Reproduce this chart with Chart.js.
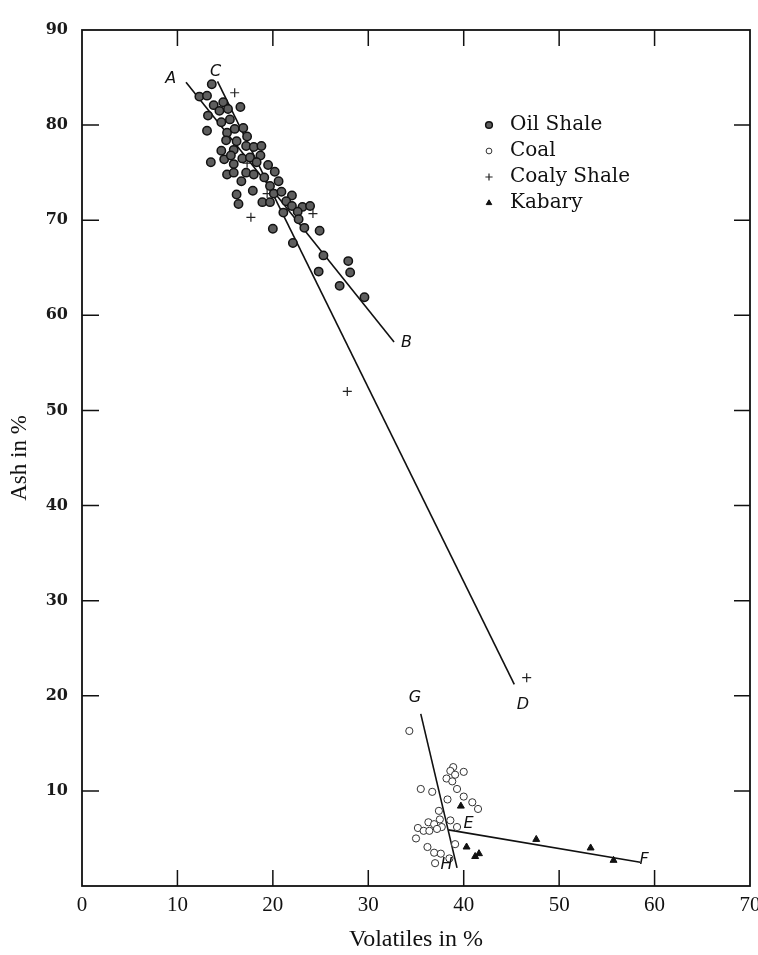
<!DOCTYPE html>
<html>
<head>
<meta charset="utf-8">
<script src="https://cdn.jsdelivr.net/npm/chart.js@4.4.1/dist/chart.umd.min.js"></script>
<style>
  html, body { margin: 0; padding: 0; background: #fff; }
  #wrap { width: 758px; height: 955px; }
</style>
</head>
<body>
<div id="wrap"><canvas id="grafico"></canvas></div>
<script>
// volatiles (x) and ash (y), percent
const oleoX = [13.6, 12.3, 13.1, 13.8, 14.8, 14.4, 15.3, 16.6, 13.2, 14.6, 15.5, 13.1, 15.2, 16.0, 16.9,
  15.1, 16.2, 17.3, 14.6, 15.9, 17.2, 18.0, 18.8, 14.9, 15.6, 16.8, 17.6, 18.7, 13.5, 15.9, 18.3, 19.5,
  15.2, 15.9, 17.2, 18.0, 19.1, 20.2, 16.7, 17.9, 19.7, 20.6, 20.1, 20.9, 22.0, 16.2, 16.4, 18.9, 19.7,
  21.4, 22.0, 23.1, 23.9, 22.6, 21.1, 22.7, 23.3, 24.9, 20.0, 22.1, 25.3, 27.9, 28.1, 24.8, 27.0, 29.6];
const oleoY = [84.3, 83.0, 83.1, 82.1, 82.4, 81.5, 81.7, 81.9, 81.0, 80.3, 80.6, 79.4, 79.2, 79.6, 79.7,
  78.4, 78.3, 78.8, 77.3, 77.4, 77.8, 77.7, 77.8, 76.4, 76.8, 76.5, 76.6, 76.8, 76.1, 75.9, 76.1, 75.8,
  74.8, 75.0, 75.0, 74.8, 74.5, 75.1, 74.1, 73.1, 73.6, 74.1, 72.8, 73.0, 72.6, 72.7, 71.7, 71.9, 71.9,
  72.0, 71.5, 71.4, 71.5, 70.9, 70.8, 70.1, 69.2, 68.9, 69.1, 67.6, 66.3, 65.7, 64.5, 64.6, 63.1, 61.9];

const carvaoX = [34.3, 38.9, 38.6, 39.1, 40.0, 38.2, 38.8, 39.3, 35.5, 36.7, 38.3, 40.0, 40.9, 41.5,
  37.4, 37.5, 36.3, 36.9, 38.6, 37.7, 39.3, 35.2, 35.8, 36.4, 37.2, 35.0, 36.2, 36.9, 37.6, 38.5, 37.0, 39.1];
const carvaoY = [16.3, 12.5, 12.1, 11.7, 12.0, 11.3, 11.0, 10.2, 10.2, 9.9, 9.1, 9.4, 8.8, 8.1,
  7.9, 7.0, 6.7, 6.5, 6.9, 6.2, 6.2, 6.1, 5.8, 5.8, 6.0, 5.0, 4.1, 3.5, 3.4, 2.9, 2.4, 4.4];

const xistoX = [16.0, 17.3, 19.4, 24.2, 17.7, 27.8, 46.6];
const xistoY = [83.4, 76.0, 72.8, 70.7, 70.3, 52.0, 21.9];

const kabaryX = [39.7, 40.3, 41.2, 41.6, 47.6, 53.3, 55.7];
const kabaryY = [8.4, 4.1, 3.1, 3.4, 4.9, 4.0, 2.7];

// trend lines, end points
const retaAB = [[10.9, 84.5], [32.7, 57.2]];
const retaCD = [[14.2, 84.6], [45.3, 21.2]];
const retaGH = [[35.5, 18.1], [39.3, 1.9]];
const retaEF = [[38.4, 5.9], [58.5, 2.5]];

// letters beside the lines
const letras = ['A', 'B', 'C', 'D', 'E', 'F', 'G', 'H'];
const letrasX = [9.3, 34.0, 14.0, 46.2, 40.5, 58.9, 34.9, 38.2];
const letrasY = [84.9, 57.1, 85.6, 19.0, 6.5, 2.8, 19.8, 2.2];

const ticksX = [0, 10, 20, 30, 40, 50, 60, 70];
const ticksY = [0, 10, 20, 30, 40, 50, 60, 70, 80, 90];

function pares(xs, ys) {
    return xs.map((x, i) => ({ x: x, y: ys[i] }));
}

function reta(pontos) {
    return {
        type: 'line',
        data: pontos.map(p => ({ x: p[0], y: p[1] })),
        showLine: true,
        borderColor: '#111',
        borderWidth: 1.6,
        pointRadius: 0,
        fill: false,
        semLegenda: true
    };
}

// frame, inward tick marks, legend and letters
const moldura = {
    id: 'moldura',
    afterDraw(chart) {
        const ctx = chart.ctx;
        const area = chart.chartArea;
        const sx = chart.scales.x;
        const sy = chart.scales.y;
        ctx.save();
        ctx.strokeStyle = '#111';
        ctx.lineWidth = 1.8;
        ctx.strokeRect(area.left, area.top, area.right - area.left, area.bottom - area.top);

        ctx.lineWidth = 1.5;
        ctx.beginPath();
        ticksX.slice(1, -1).forEach(v => {
            const px = sx.getPixelForValue(v);
            ctx.moveTo(px, area.bottom); ctx.lineTo(px, area.bottom - 16);
            ctx.moveTo(px, area.top); ctx.lineTo(px, area.top + 16);
        });
        ticksY.slice(1, -1).forEach(v => {
            const py = sy.getPixelForValue(v);
            ctx.moveTo(area.left, py); ctx.lineTo(area.left + 17, py);
            ctx.moveTo(area.right, py); ctx.lineTo(area.right - 16, py);
        });
        ctx.stroke();

        // letters
        ctx.fillStyle = '#111';
        ctx.font = 'italic 16px "DejaVu Sans"';
        ctx.textAlign = 'center';
        ctx.textBaseline = 'middle';
        letras.forEach((l, i) => {
            ctx.fillText(l, sx.getPixelForValue(letrasX[i]), sy.getPixelForValue(letrasY[i]));
        });

        // legend
        const itens = chart.data.datasets.filter(d => !d.semLegenda);
        let y = 125;
        ctx.textAlign = 'left';
        ctx.font = '20px "DejaVu Serif"';
        itens.forEach(d => {
            ctx.fillStyle = d.backgroundColor;
            ctx.strokeStyle = d.borderColor;
            ctx.lineWidth = d.borderWidth;
            Chart.helpers.drawPoint(ctx, { pointStyle: d.pointStyle, radius: d.pointRadius * 0.8, borderWidth: d.borderWidth }, 489, y);
            ctx.fillStyle = '#111';
            ctx.fillText(d.label, 510, y);
            y += 26;
        });
        ctx.restore();
    }
};

let config = {
    type: 'scatter',
    data: {
        datasets: [{
            label: 'Oil Shale',
            data: pares(oleoX, oleoY),
            pointStyle: 'circle',
            pointRadius: 4.2,
            backgroundColor: '#5e5e5e',
            borderColor: '#111',
            borderWidth: 1.5
        }, {
            label: 'Coal',
            data: pares(carvaoX, carvaoY),
            pointStyle: 'circle',
            pointRadius: 3.6,
            backgroundColor: '#fff',
            borderColor: '#333',
            borderWidth: 1
        }, {
            label: 'Coaly Shale',
            data: pares(xistoX, xistoY),
            pointStyle: 'cross',
            pointRadius: 4.5,
            backgroundColor: '#222',
            borderColor: '#222',
            borderWidth: 1.2
        }, {
            label: 'Kabary',
            data: pares(kabaryX, kabaryY),
            pointStyle: 'triangle',
            pointRadius: 4,
            backgroundColor: '#111',
            borderColor: '#111',
            borderWidth: 1
        },
        reta(retaAB), reta(retaCD), reta(retaGH), reta(retaEF)]
    },
    options: {
        responsive: true,
        maintainAspectRatio: false,
        animation: false,
        layout: { padding: { top: 30, right: 8, left: 0, bottom: 0 } },
        plugins: {
            legend: { display: false },
            tooltip: { enabled: false }
        },
        scales: {
            x: {
                type: 'linear',
                min: 0,
                max: 70,
                afterBuildTicks: s => { s.ticks = ticksX.map(v => ({ value: v })); },
                grid: { display: false, drawTicks: false },
                border: { display: false },
                ticks: { padding: 7, color: '#111', font: { size: 21, family: 'Liberation Serif' } },
                title: { display: true, text: 'Volatiles in %', color: '#111', padding: { top: 14, bottom: 1 }, font: { size: 24, family: 'Liberation Serif' } },
                afterFit: s => { s.height = 69; s.paddingLeft = 0; s.paddingRight = 0; }
            },
            y: {
                type: 'linear',
                min: 0,
                max: 90,
                afterBuildTicks: s => { s.ticks = ticksY.map(v => ({ value: v })); },
                grid: { display: false, drawTicks: false },
                border: { display: false },
                ticks: { padding: 14, color: '#1a1a1a', font: { size: 16, weight: 'bold', family: 'DejaVu Serif' }, callback: v => v === 0 ? '' : v },
                title: { display: true, text: 'Ash in %', color: '#111', padding: { top: 6, bottom: 0 }, font: { size: 23, family: 'Liberation Serif' } },
                afterFit: s => { s.width = 82; s.paddingTop = 0; s.paddingBottom = 0; }
            }
        }
    },
    plugins: [moldura]
};

let ctx = document.getElementById('grafico').getContext('2d');
window.myScatter = new Chart(ctx, config);
</script>
</body>
</html>
